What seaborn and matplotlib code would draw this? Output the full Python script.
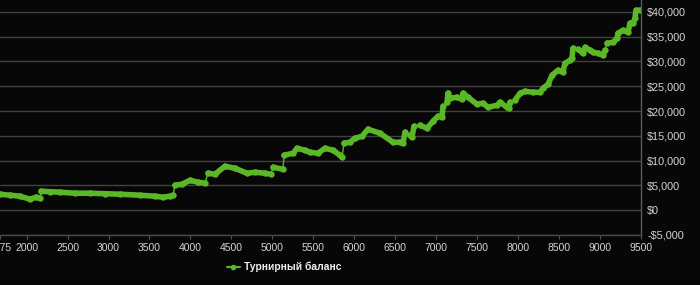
import matplotlib
matplotlib.use("Agg")
import matplotlib.pyplot as plt
import seaborn as sns
import pandas as pd
from matplotlib.lines import Line2D
from matplotlib.ticker import FuncFormatter, FixedLocator

# ---- data ----
tournaments = [1675, 1797, 1919, 2041, 2114, 2163,
               2175, 2285, 2407, 2590, 2774, 2957, 3140, 3384, 3567, 3665, 3750, 3787,
               3811, 3897, 3994, 4092, 4177,
               4214, 4299, 4421, 4544, 4690, 4788, 4910, 4983,
               5008, 5130,
               5142, 5252, 5301, 5398, 5459, 5557, 5642, 5740, 5825, 5850,
               5874, 5947, 6008, 6094, 6167, 6314, 6473, 6558, 6594,
               6619, 6680, 6704,
               6729, 6802, 6887, 6961, 7022, 7071,
               7083, 7132, 7144, 7168, 7254, 7315, 7327, 7388, 7498, 7571, 7632, 7742, 7779, 7864, 7888,
               7901, 7962, 8023, 8084, 8181, 8267, 8304, 8365, 8414, 8486, 8547, 8572, 8633, 8657,
               8670, 8731, 8780, 8792, 8816, 8877, 8914, 8975, 9036,
               9060, 9085, 9158, 9207, 9219, 9280, 9341, 9365, 9402, 9426, 9439, 9488]
balance = [3226, 3024, 2822, 2218, 2621, 2419,
           3830, 3730, 3629, 3427, 3427, 3326, 3226, 3024, 2822, 2621, 2822, 3024,
           5040, 5242, 6048, 5645, 5443,
           7459, 7258, 8870, 8467, 7459, 7661, 7459, 7258,
           8669, 8266,
           11088, 11491, 12499, 12096, 11693, 11491, 12499, 12096, 11088, 10685,
           13507, 13709, 14515, 14918, 16330, 15523, 13709, 13709, 13507,
           15725, 15120, 14717,
           16934, 17136, 16531, 17942, 18950, 18749,
           20966, 21773, 23587, 22579, 22781, 22378, 23587, 22781, 21370, 21571, 20765, 21168, 21773, 20765, 20563,
           21773, 22176, 23587, 23990, 23789, 23789, 24595, 25402, 27216, 28224, 27821, 29635, 30240, 30643,
           32659, 32458, 31853, 31651, 32861, 32256, 31853, 31651, 31248,
           32256, 33667, 33869, 34675, 35683, 36288, 35885, 37699, 37699, 38707, 40320, 40320]
run_id = ([0] * 6 + [1] * 12 + [2] * 5 + [3] * 8 + [4] * 2 + [5] * 10 + [6] * 10 +
          [7] * 3 + [8] * 6 + [9] * 15 + [10] * 14 + [11] * 9 + [12] * 11)

x_ticks = [1675, 2000, 2500, 3000, 3500, 4000, 4500, 5000, 5500, 6000,
           6500, 7000, 7500, 8000, 8500, 9000, 9500]
y_ticks = [-5000, 0, 5000, 10000, 15000, 20000, 25000, 30000, 35000, 40000]
series_label = "Турнирный баланс"

df = pd.DataFrame({"t": tournaments, "b": balance, "run": run_id})

GREEN = "#5ab827"
BG = "#070707"
GRID = "#424242"
TXT = "#d4d4d4"

sns.set_theme(style="dark")
plt.rcParams["font.family"] = ["Liberation Sans", "DejaVu Sans"]

fig = plt.figure(figsize=(7.0, 2.85), dpi=100, facecolor=BG)
ax = fig.add_axes([0.0, 1 - 235 / 285, 641 / 700, 235 / 285])
ax.set_facecolor(BG)

# thin connecting line across all points (shows jumps as thin verticals)
sns.lineplot(data=df, x="t", y="b", ax=ax, color=GREEN, lw=1.0,
             estimator=None, sort=False, legend=False)
# thick marker runs
sns.lineplot(data=df, x="t", y="b", units="run", estimator=None, sort=False,
             ax=ax, color=GREEN, lw=4.0, marker="o", markersize=4.6,
             markeredgewidth=0, legend=False)

ax.set_xlim(1675, 9500)
ax.set_ylim(-5000, 42400)

ax.xaxis.set_major_locator(FixedLocator(x_ticks))
ax.yaxis.set_major_locator(FixedLocator(y_ticks))
ax.yaxis.tick_right()
ax.yaxis.set_label_position("right")
ax.yaxis.set_major_formatter(FuncFormatter(
    lambda v, p: ("-$" if v < 0 else "$") + f"{abs(int(v)):,}"))

ax.grid(True, axis="y", color=GRID, lw=1.0)
ax.grid(False, axis="x")
ax.tick_params(axis="y", length=0, pad=4.5, labelsize=7.8, labelcolor=TXT)
ax.tick_params(axis="x", length=3, width=0.8, color="#555555", pad=2.5,
               labelsize=7.5, labelcolor=TXT, bottom=True)
ax.set_xlabel("")
ax.set_ylabel("")

for side in ["top", "left"]:
    ax.spines[side].set_visible(False)
ax.spines["right"].set_visible(True)
ax.spines["right"].set_color("#5a5a5a")
ax.spines["right"].set_linewidth(1.0)
ax.spines["bottom"].set_visible(True)
ax.spines["bottom"].set_color("#4a4a4a")
ax.spines["bottom"].set_linewidth(1.0)

handle = Line2D([], [], color=GREEN, lw=1.5, marker="o", markersize=4,
                markeredgewidth=0)
leg = fig.legend([handle], [series_label], loc="center left",
                 bbox_to_anchor=(218 / 700, 1 - 267 / 285), frameon=False,
                 handlelength=1.2, handletextpad=0.4,
                 prop={"size": 7.4, "weight": "bold"})
for t in leg.get_texts():
    t.set_color("#f0f0f0")

fig.savefig("out.png", dpi=100, facecolor=BG)
